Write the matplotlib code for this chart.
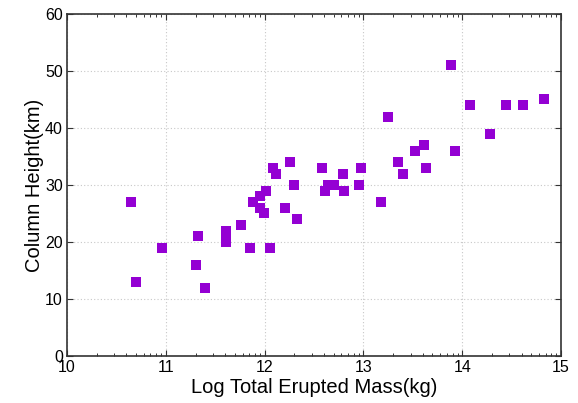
import numpy as np
import matplotlib
matplotlib.use("Agg")
from matplotlib import pyplot as plt
from matplotlib.ticker import FixedLocator

# log total erupted mass (kg) and column height (km)
log_mass = [10.65, 10.70, 10.96, 11.31, 11.33, 11.40, 11.61, 11.61, 11.61,
            11.76, 11.85, 11.88, 11.95, 11.95, 12.01, 11.99, 12.05, 12.08,
            12.12, 12.21, 12.26, 12.30, 12.33, 12.58, 12.61, 12.64, 12.70,
            12.79, 12.80, 12.96, 12.98, 13.18, 13.25, 13.35, 13.40, 13.52,
            13.61, 13.63, 13.89, 13.93, 14.08, 14.28, 14.44, 14.62, 14.83]
height = [27, 13, 19, 16, 21, 12, 20, 21, 22,
          23, 19, 27, 28, 26, 29, 25, 19, 33,
          32, 26, 34, 30, 24, 33, 29, 30, 30,
          32, 29, 30, 33, 27, 42, 34, 32, 36,
          37, 33, 51, 36, 44, 39, 44, 44, 45]

x_ticks = [10, 11, 12, 13, 14, 15]
y_ticks = [0, 10, 20, 30, 40, 50, 60]

plt.rcParams["font.family"] = ["Liberation Sans", "DejaVu Sans"]

fig = plt.figure(figsize=(5.78, 4.03), dpi=100)
ax = fig.add_axes([0.1159, 0.1166, 0.8547, 0.8487])

ax.plot(log_mass, height, "s", color="#9400d3", markersize=6.8,
        markeredgewidth=0, zorder=3)

ax.set_xlim(10, 15)
ax.set_ylim(0, 60)
ax.set_xticks(x_ticks)
ax.set_yticks(y_ticks)

# log style minor ticks inside each decade
minor = [d + np.log10(k) for d in range(10, 15) for k in range(2, 10)]
ax.xaxis.set_minor_locator(FixedLocator(minor))

ax.tick_params(which="both", direction="in", top=True, right=True,
               labelsize=11.5, pad=3, color="#333333")
ax.tick_params(which="major", length=4, width=0.8)
ax.tick_params(which="minor", length=2.5, width=0.7)

ax.grid(True, which="major", linestyle=(0, (1, 2)), color="#c8c8c8",
        linewidth=0.8)
ax.set_axisbelow(True)

for s in ax.spines.values():
    s.set_linewidth(1.2)
    s.set_color("#333333")

ax.set_xlabel("Log Total Erupted Mass(kg)", fontsize=14.5, labelpad=2)
ax.set_ylabel("Column Height(km)", fontsize=14.5, labelpad=1)

fig.savefig("out.png", dpi=100)
